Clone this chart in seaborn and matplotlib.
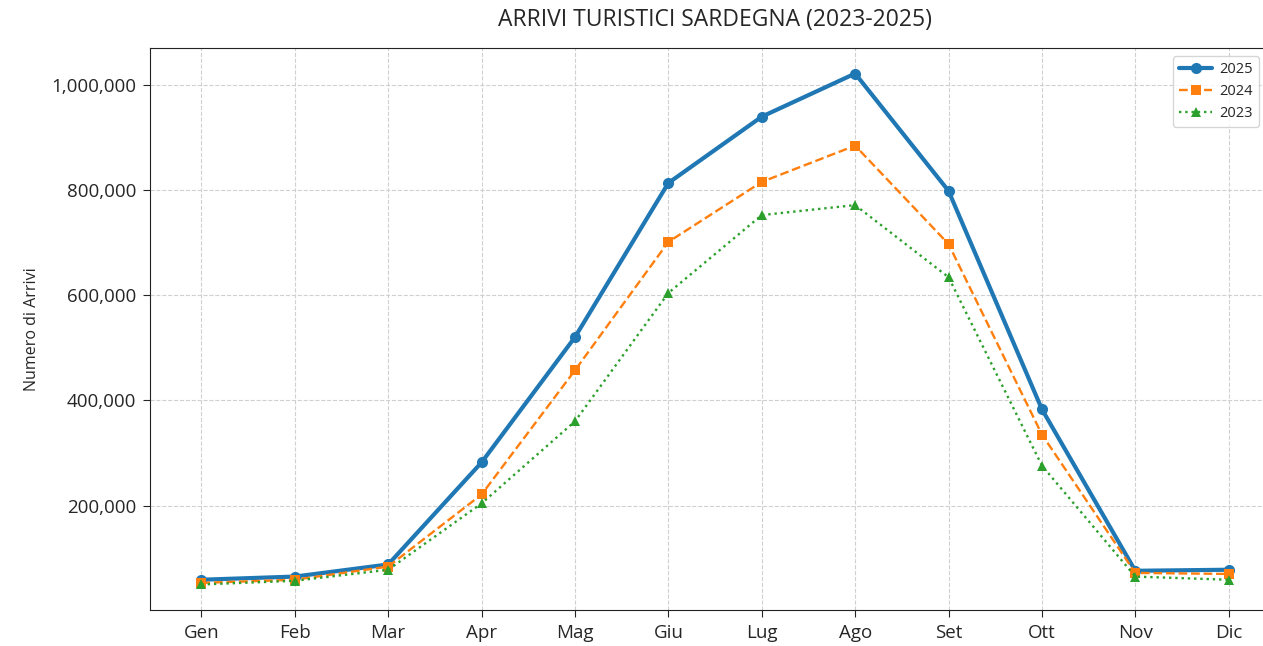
import matplotlib
matplotlib.use("Agg")
import matplotlib.pyplot as plt
import matplotlib.ticker as mticker
import pandas as pd
import seaborn as sns

months = ['Gen', 'Feb', 'Mar', 'Apr', 'Mag', 'Giu', 'Lug', 'Ago', 'Set', 'Ott', 'Nov', 'Dic']
arrivi_2025 = [59000, 65000, 88000, 282000, 520000, 813000, 939000, 1021000, 798000, 383000, 76000, 78000]
arrivi_2024 = [53000, 59000, 84000, 221000, 457000, 701000, 815000, 884000, 697000, 335000, 72000, 70000]
arrivi_2023 = [50000, 57000, 78000, 204000, 360000, 604000, 752000, 771000, 634000, 276000, 65000, 59000]

sns.set_style("ticks")
plt.rcParams['font.family'] = ['Open Sans', 'DejaVu Sans']

fig = plt.figure(figsize=(12.63, 6.46), dpi=100)
ax = fig.add_axes([0.1188, 0.0557, 0.8947, 0.87])

series = [
    ('2025', arrivi_2025, '#1f77b4', 'o', '-', 3, 8),
    ('2024', arrivi_2024, '#ff7f0e', 's', '--', 1.7, 7),
    ('2023', arrivi_2023, '#2ca02c', '^', ':', 1.7, 7),
]
for label, vals, color, marker, ls, lw, ms in series:
    df = pd.DataFrame({'Mese': months, 'Arrivi': vals})
    sns.lineplot(data=df, x='Mese', y='Arrivi', ax=ax, color=color, marker=marker,
                 linestyle=ls, linewidth=lw, markersize=ms, markeredgewidth=0,
                 label=label, sort=False)

ax.grid(True, linestyle='--', color='#d0d0d0', linewidth=0.8)
ax.set_axisbelow(True)
ax.yaxis.set_major_formatter(mticker.StrMethodFormatter('{x:,.0f}'))
ax.margins(x=0.05, y=0.05)
ax.set_xlabel('')
ax.set_ylabel('Numero di Arrivi', fontsize=11.5, labelpad=8)
ax.tick_params(axis='both', labelsize=13.5, length=5, pad=5)
for s in ax.spines.values():
    s.set_visible(True)
    s.set_color('#222222')
ax.set_title('ARRIVI TURISTICI SARDEGNA (2023-2025)', fontsize=16.5, pad=16)
ax.legend(loc='upper left', bbox_to_anchor=(1173 / 1263, 1 - 56 / 646),
          bbox_transform=fig.transFigure, fontsize=10.5, frameon=True,
          handlelength=2.3, handletextpad=0.5, borderaxespad=0)

fig.savefig('out.png', dpi=100)
